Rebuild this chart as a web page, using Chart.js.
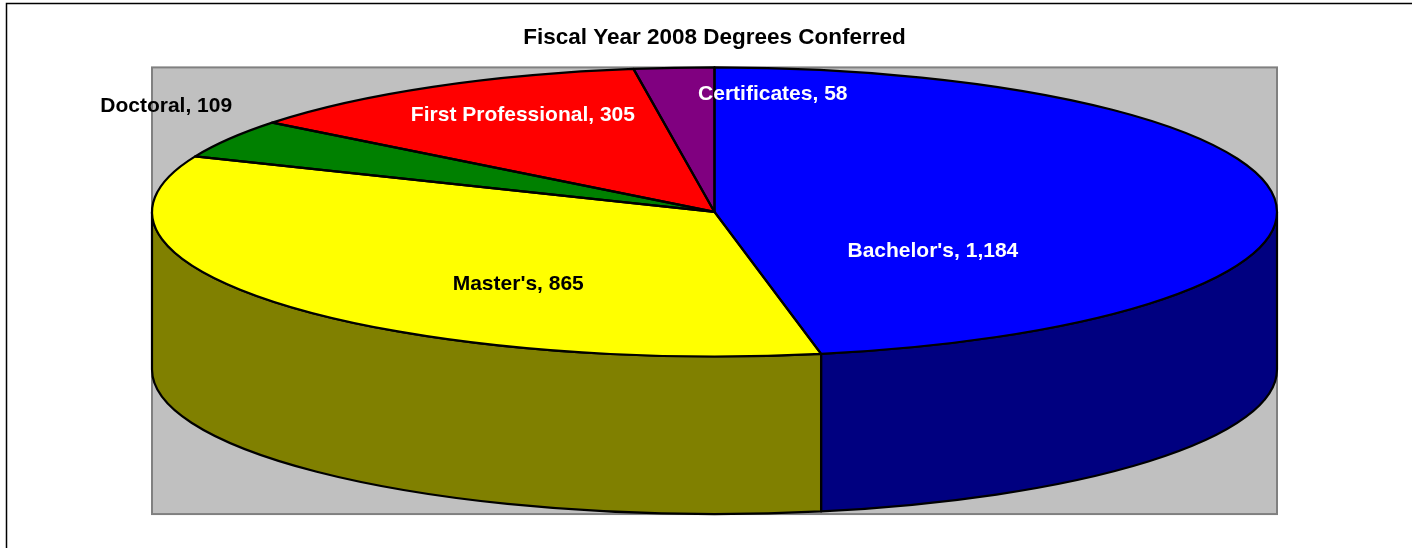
<!DOCTYPE html>
<html>
<head>
<meta charset="utf-8">
<title>Fiscal Year 2008 Degrees Conferred</title>
<script src="https://cdn.jsdelivr.net/npm/chart.js@4.4.1/dist/chart.umd.min.js"></script>
<style>
  html, body { margin: 0; padding: 0; background: #fff; }
  #wrap { width: 1412px; height: 548px; }
</style>
</head>
<body>
<div id="wrap"><canvas id="chart"></canvas></div>
<script>
const categories = ["Bachelor's", "Master's", "Doctoral", "First Professional", "Certificates"];
const degrees = [1184, 865, 109, 305, 58];
const topColors = ['#0000FF', '#FFFF00', '#008000', '#FF0000', '#800080'];
const sideColors = ['#000080', '#808000', '#004000', '#800000', '#400040'];
const labelColors = ['#FFFFFF', '#000000', '#000000', '#FFFFFF', '#FFFFFF'];
// label spot: fraction of radius along the slice middle, then a nudge in px
const labelSpots = [
  { f: 0.39, dx: 0, dy: 45 },
  { f: 0.45, dx: 0, dy: 31 },
  { f: 1.13, dx: 0, dy: -23 },
  { f: 0.68, dx: 0, dy: -12 },
  { f: 0.83, dx: 92, dy: 2 }
];

const FONT = '"Liberation Sans", Arial, Helvetica, sans-serif';
const depthRatio = 1.09; // pie thickness relative to the vertical radius

function pieGeom(chart) {
  const area = chart.chartArea;
  const arcs = chart.getDatasetMeta(0).data;
  const r = arcs[0].outerRadius;
  return {
    cx: arcs[0].x,
    cy: arcs[0].y,
    r: r,
    rx: (area.right - area.left) / 2,
    ry: r,
    arcs: arcs
  };
}

const pie3d = {
  id: 'pie3d',
  beforeDraw(chart) {
    const ctx = chart.ctx;
    const area = chart.chartArea;
    const g = pieGeom(chart);
    const depth = g.ry * depthRatio;
    ctx.save();
    ctx.fillStyle = '#FFFFFF';
    ctx.fillRect(0, 0, chart.width, chart.height);
    // outer chart frame
    ctx.strokeStyle = '#000000';
    ctx.lineWidth = 1.5;
    ctx.strokeRect(6.5, 3.5, chart.width + 10, chart.height + 10);
    // plot area
    const bottom = g.cy + g.ry + depth;
    ctx.fillStyle = '#C0C0C0';
    ctx.fillRect(area.left, area.top, area.right - area.left, bottom - area.top);
    ctx.strokeStyle = '#808080';
    ctx.lineWidth = 2;
    ctx.strokeRect(area.left, area.top, area.right - area.left, bottom - area.top);
    ctx.restore();
  },
  beforeDatasetsDraw(chart) {
    const ctx = chart.ctx;
    const g = pieGeom(chart);
    const depth = g.ry * depthRatio;
    // front walls
    ctx.save();
    ctx.lineWidth = 2.2;
    ctx.strokeStyle = '#000000';
    ctx.lineJoin = 'round';
    g.arcs.forEach((arc, i) => {
      const s = Math.max(arc.startAngle, 0);
      const e = Math.min(arc.endAngle, Math.PI);
      if (e <= s) return;
      ctx.beginPath();
      ctx.ellipse(g.cx, g.cy, g.rx, g.ry, 0, s, e);
      ctx.lineTo(g.cx + g.rx * Math.cos(e), g.cy + depth + g.ry * Math.sin(e));
      ctx.ellipse(g.cx, g.cy + depth, g.rx, g.ry, 0, e, s, true);
      ctx.closePath();
      ctx.fillStyle = sideColors[i];
      ctx.fill();
      ctx.stroke();
    });
    ctx.restore();
    // squash the round pie into the tilted top face
    ctx.save();
    ctx.translate(g.cx, g.cy);
    ctx.scale(g.rx / g.r, g.ry / g.r);
    ctx.translate(-g.cx, -g.cy);
  },
  afterDatasetsDraw(chart) {
    const ctx = chart.ctx;
    ctx.restore();
    const g = pieGeom(chart);
    ctx.save();
    ctx.lineWidth = 2.2;
    ctx.strokeStyle = '#000000';
    ctx.lineJoin = 'round';
    g.arcs.forEach(arc => {
      ctx.beginPath();
      ctx.moveTo(g.cx, g.cy);
      ctx.lineTo(g.cx + g.rx * Math.cos(arc.startAngle), g.cy + g.ry * Math.sin(arc.startAngle));
      ctx.ellipse(g.cx, g.cy, g.rx, g.ry, 0, arc.startAngle, arc.endAngle);
      ctx.closePath();
      ctx.stroke();
    });
    ctx.font = 'bold 21px ' + FONT;
    ctx.textAlign = 'center';
    ctx.textBaseline = 'middle';
    g.arcs.forEach((arc, i) => {
      const mid = (arc.startAngle + arc.endAngle) / 2;
      const spot = labelSpots[i];
      const x = g.cx + g.rx * spot.f * Math.cos(mid) + spot.dx;
      const y = g.cy + g.ry * spot.f * Math.sin(mid) + spot.dy;
      ctx.fillStyle = labelColors[i];
      ctx.fillText(categories[i] + ', ' + degrees[i].toLocaleString('en-US'), x, y);
    });
    ctx.restore();
  }
};

new Chart(document.getElementById('chart'), {
  type: 'pie',
  data: {
    labels: categories,
    datasets: [{
      data: degrees,
      backgroundColor: topColors,
      borderWidth: 0,
      hoverOffset: 0,
      clip: false
    }]
  },
  options: {
    responsive: true,
    maintainAspectRatio: false,
    animation: false,
    events: [],
    layout: {
      padding: { left: 152, right: 135, top: 0, bottom: 191.5 }
    },
    plugins: {
      legend: { display: false },
      tooltip: { enabled: false },
      title: {
        display: true,
        text: 'Fiscal Year 2008 Degrees Conferred',
        color: '#000000',
        font: { family: FONT, size: 22.5, weight: 'bold', lineHeight: 1.2 },
        padding: { top: 24, bottom: 16.4 }
      }
    }
  },
  plugins: [pie3d]
});
</script>
</body>
</html>
